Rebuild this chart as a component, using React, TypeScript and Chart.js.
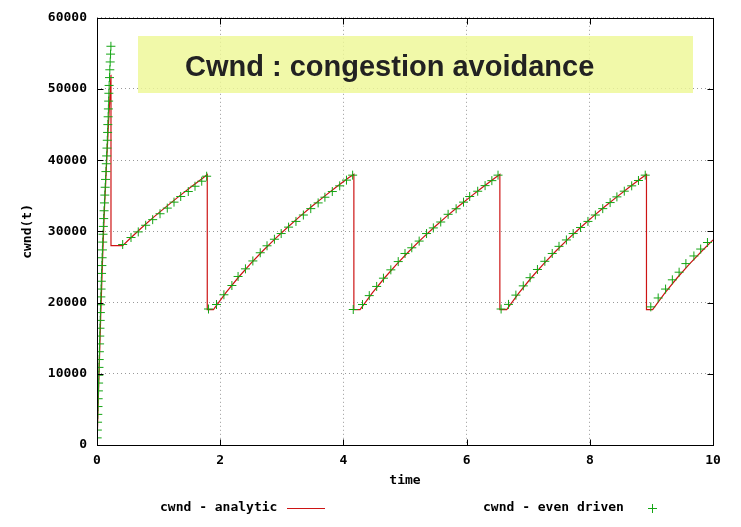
import { useEffect, useRef } from "react";
import { Chart, registerables } from "chart.js";

Chart.register(...registerables);

const titleText = "Cwnd : congestion avoidance";
const xAxisTitle = "time";
const yAxisTitle = "cwnd(t)";
const seriesNames = ["cwnd - analytic", "cwnd - even driven"];

const xTickValues = [0, 2, 4, 6, 8, 10];
const yTickValues = [0, 10000, 20000, 30000, 40000, 50000, 60000];

// analytic (red line)
const analyticTime = [
  0, 0.03, 0.06, 0.09, 0.12, 0.15, 0.18, 0.21, 0.227, 0.227, 0.417,
  0.52, 0.72, 0.92, 1.12, 1.32, 1.52, 1.72, 1.79, 1.79,
  1.89, 2.09, 2.29, 2.49, 2.69, 2.89, 3.09, 3.29, 3.49, 3.69, 3.89, 4.09, 4.17, 4.17,
  4.27, 4.47, 4.67, 4.87, 5.07, 5.27, 5.47, 5.67, 5.87, 6.07, 6.27, 6.47, 6.54, 6.54,
  6.65, 6.85, 7.05, 7.25, 7.45, 7.65, 7.85, 8.05, 8.25, 8.45, 8.65, 8.85, 8.92, 8.92,
  9.02, 9.22, 9.42, 9.62, 9.82, 10.0,
];
const analyticCwnd = [
  0, 9000, 18000, 26000, 33000, 38500, 44000, 49000, 52000, 28000, 28000,
  28860, 30470, 32000, 33450, 34850, 36200, 37490, 38000, 19000,
  19000, 21360, 23490, 25440, 27250, 28950, 30550, 32080, 33530, 34920, 36260, 37560, 38000, 19000,
  19000, 21360, 23490, 25440, 27250, 28950, 30550, 32080, 33530, 34920, 36260, 37560, 38000, 19000,
  19000, 21360, 23490, 25440, 27250, 28950, 30550, 32080, 33530, 34920, 36260, 37560, 38000, 19000,
  19000, 21360, 23490, 25440, 27250, 28800,
];

// event driven (green +) : slow start
const slowStartTime = [
  0.003, 0.006, 0.009, 0.013, 0.016, 0.019, 0.023, 0.026, 0.029, 0.032,
  0.036, 0.039, 0.042, 0.045, 0.048, 0.052, 0.055, 0.058, 0.062, 0.066,
  0.070, 0.074, 0.079, 0.083, 0.088, 0.093, 0.098, 0.103, 0.109, 0.115,
  0.121, 0.127, 0.133, 0.139, 0.145, 0.151, 0.157, 0.162, 0.167, 0.172,
  0.176, 0.181, 0.185, 0.189, 0.193, 0.197, 0.203, 0.208, 0.214, 0.220, 0.226,
];
const slowStartCwnd = [
  1000, 2100, 3200, 4300, 5400, 6500, 7600, 8700, 9800, 10900,
  12000, 13100, 14200, 15300, 16400, 17500, 18600, 19700, 20800, 21900,
  23000, 24100, 25200, 26300, 27400, 28500, 29600, 30700, 31800, 32900,
  34000, 35100, 36200, 37300, 38400, 39500, 40600, 41700, 42800, 43900,
  45000, 46100, 47200, 48300, 49400, 50500, 51600, 52700, 53800, 54900, 56000,
];

// event driven (green +) : congestion avoidance
const avoidanceTime = [
  0.417, 0.552, 0.67, 0.79, 0.904, 1.023, 1.141, 1.25, 1.359, 1.482, 1.591, 1.70, 1.78,
  1.81, 1.94, 2.06, 2.19, 2.29, 2.41, 2.53, 2.65, 2.76, 2.88, 2.99, 3.11, 3.23, 3.35, 3.47, 3.59, 3.70, 3.82, 3.94, 4.05, 4.15,
  4.16, 4.31, 4.42, 4.54, 4.65, 4.77, 4.89, 5.00, 5.11, 5.23, 5.35, 5.46, 5.58, 5.70, 5.83, 5.95, 6.05, 6.18, 6.30, 6.41, 6.51,
  6.56, 6.68, 6.80, 6.92, 7.03, 7.15, 7.27, 7.39, 7.50, 7.62, 7.73, 7.85, 7.97, 8.09, 8.21, 8.33, 8.44, 8.56, 8.68, 8.79, 8.90,
  8.99, 9.11, 9.23, 9.34, 9.45, 9.56, 9.69, 9.80, 9.91,
];
const avoidanceCwnd = [
  28160, 29140, 29930, 30860, 31650, 32480, 33270, 34110, 34900, 35600, 36340, 37050, 37750,
  19100, 19730, 21100, 22400, 23670, 24740, 25850, 27000, 27980, 28900, 29700, 30600, 31400, 32300, 33200, 34000, 34800, 35600, 36400, 37200, 37900,
  19030, 19730, 20980, 22270, 23430, 24600, 25760, 26900, 27700, 28640, 29700, 30490, 31320, 32400, 33180, 34110, 34900, 35640, 36430, 37130, 37900,
  19100, 19750, 21050, 22350, 23500, 24650, 25800, 26900, 27900, 28800, 29700, 30550, 31400, 32300, 33200, 34050, 34850, 35650, 36400, 37150, 37900,
  19400, 20650, 21900, 23200, 24270, 25480, 26550, 27520, 28440,
];

const MONO = '"DejaVu Sans Mono", monospace';
const RED = "rgb(205,20,20)";
const GREEN = "rgb(20,165,20)";

export default function App() {
  const ref = useRef<HTMLCanvasElement | null>(null);

  useEffect(() => {
    const canvas = ref.current;
    if (!canvas) return;

    const analyticData = analyticTime.map((t, i) => ({ x: t, y: analyticCwnd[i] }));
    const eventData = slowStartTime
      .map((t, i) => ({ x: t, y: slowStartCwnd[i] }))
      .concat(avoidanceTime.map((t, i) => ({ x: t, y: avoidanceCwnd[i] })));

    const decor = {
      id: "decor",
      beforeDatasetsDraw(chart: any) {
        const ctx = chart.ctx;
        ctx.save();
        ctx.fillStyle = "rgba(238,248,150,0.82)";
        ctx.fillRect(138, 36, 555, 57);
        ctx.font = 'bold 29px "Liberation Sans", Arial, sans-serif';
        ctx.fillStyle = "#222";
        ctx.textAlign = "left";
        ctx.textBaseline = "alphabetic";
        ctx.fillText(titleText, 185, 76);
        ctx.restore();
      },
      afterDraw(chart: any) {
        const { ctx, chartArea: a, scales } = chart;
        const L = Math.round(a.left) + 0.5;
        const R = Math.round(a.right) + 0.5;
        const T = Math.round(a.top) + 0.5;
        const B = Math.round(a.bottom) + 0.5;
        ctx.save();
        ctx.strokeStyle = "#000";
        ctx.lineWidth = 1;
        ctx.setLineDash([]);
        ctx.strokeRect(L, T, R - L, B - T);
        ctx.beginPath();
        xTickValues.forEach((v) => {
          const px = Math.round(scales.x.getPixelForValue(v)) + 0.5;
          ctx.moveTo(px, B);
          ctx.lineTo(px, B - 6);
          ctx.moveTo(px, T);
          ctx.lineTo(px, T + 6);
        });
        yTickValues.forEach((v) => {
          const py = Math.round(scales.y.getPixelForValue(v)) + 0.5;
          ctx.moveTo(L, py);
          ctx.lineTo(L + 6, py);
          ctx.moveTo(R, py);
          ctx.lineTo(R - 6, py);
        });
        ctx.stroke();

        // legend
        ctx.font = `bold 13px ${MONO}`;
        ctx.fillStyle = "#000";
        ctx.textAlign = "left";
        ctx.textBaseline = "middle";
        ctx.fillText(seriesNames[0], 160, 508);
        ctx.fillText(seriesNames[1], 483, 508);
        ctx.strokeStyle = RED;
        ctx.lineWidth = 1.2;
        ctx.beginPath();
        ctx.moveTo(287, 508.5);
        ctx.lineTo(325, 508.5);
        ctx.stroke();
        ctx.strokeStyle = GREEN;
        ctx.lineWidth = 1;
        ctx.beginPath();
        ctx.moveTo(648, 508.5);
        ctx.lineTo(657, 508.5);
        ctx.moveTo(652.5, 504);
        ctx.lineTo(652.5, 513);
        ctx.stroke();
        ctx.restore();
      },
    };

    const chart = new Chart(canvas, {
      type: "scatter",
      data: {
        datasets: [
          {
            label: seriesNames[1],
            data: eventData,
            showLine: false,
            pointStyle: "cross",
            pointRadius: 4.5,
            pointBorderWidth: 1,
            borderColor: GREEN,
            backgroundColor: GREEN,
            order: 0,
          },
          {
            label: seriesNames[0],
            data: analyticData,
            showLine: true,
            borderColor: RED,
            borderWidth: 1.2,
            pointRadius: 0,
            tension: 0,
            order: 1,
          },
        ],
      },
      options: {
        animation: false,
        responsive: false,
        maintainAspectRatio: false,
        events: [],
        layout: { padding: { left: 0, top: 14, right: 28, bottom: 0 } },
        plugins: {
          legend: { display: false },
          title: { display: false },
          tooltip: { enabled: false },
        },
        scales: {
          x: {
            type: "linear",
            min: 0,
            max: 10,
            afterBuildTicks: (s: any) => {
              s.ticks = xTickValues.map((v) => ({ value: v }));
            },
            afterFit: (s: any) => {
              s.height = 82;
            },
            ticks: {
              font: { family: MONO, size: 13, weight: "bold" },
              color: "#000",
              padding: 8,
              maxRotation: 0,
              callback: (v: any) => String(v),
            },
            grid: { color: "#999999", lineWidth: 1, drawTicks: false },
            border: { display: false, dash: [1, 3] },
            title: {
              display: true,
              text: xAxisTitle,
              font: { family: MONO, size: 13, weight: "bold" },
              color: "#000",
              padding: { top: 0, bottom: 39 },
            },
          },
          y: {
            type: "linear",
            min: 0,
            max: 60000,
            afterBuildTicks: (s: any) => {
              s.ticks = yTickValues.map((v) => ({ value: v }));
            },
            afterFit: (s: any) => {
              s.width = 97;
            },
            ticks: {
              font: { family: MONO, size: 13, weight: "bold" },
              color: "#000",
              padding: 10,
              callback: (v: any) => String(v),
            },
            grid: { color: "#999999", lineWidth: 1, drawTicks: false },
            border: { display: false, dash: [1, 3] },
            title: {
              display: true,
              text: yAxisTitle,
              font: { family: MONO, size: 13, weight: "bold" },
              color: "#000",
              padding: { top: 20, bottom: 0 },
            },
          },
        },
      },
      plugins: [decor],
    } as any);

    return () => chart.destroy();
  }, []);

  return (
    <div style={{ position: "fixed", left: 0, top: 0, width: 741, height: 527, background: "#fff" }}>
      <canvas ref={ref} width={741} height={527} style={{ display: "block", width: 741, height: 527 }} />
    </div>
  );
}
